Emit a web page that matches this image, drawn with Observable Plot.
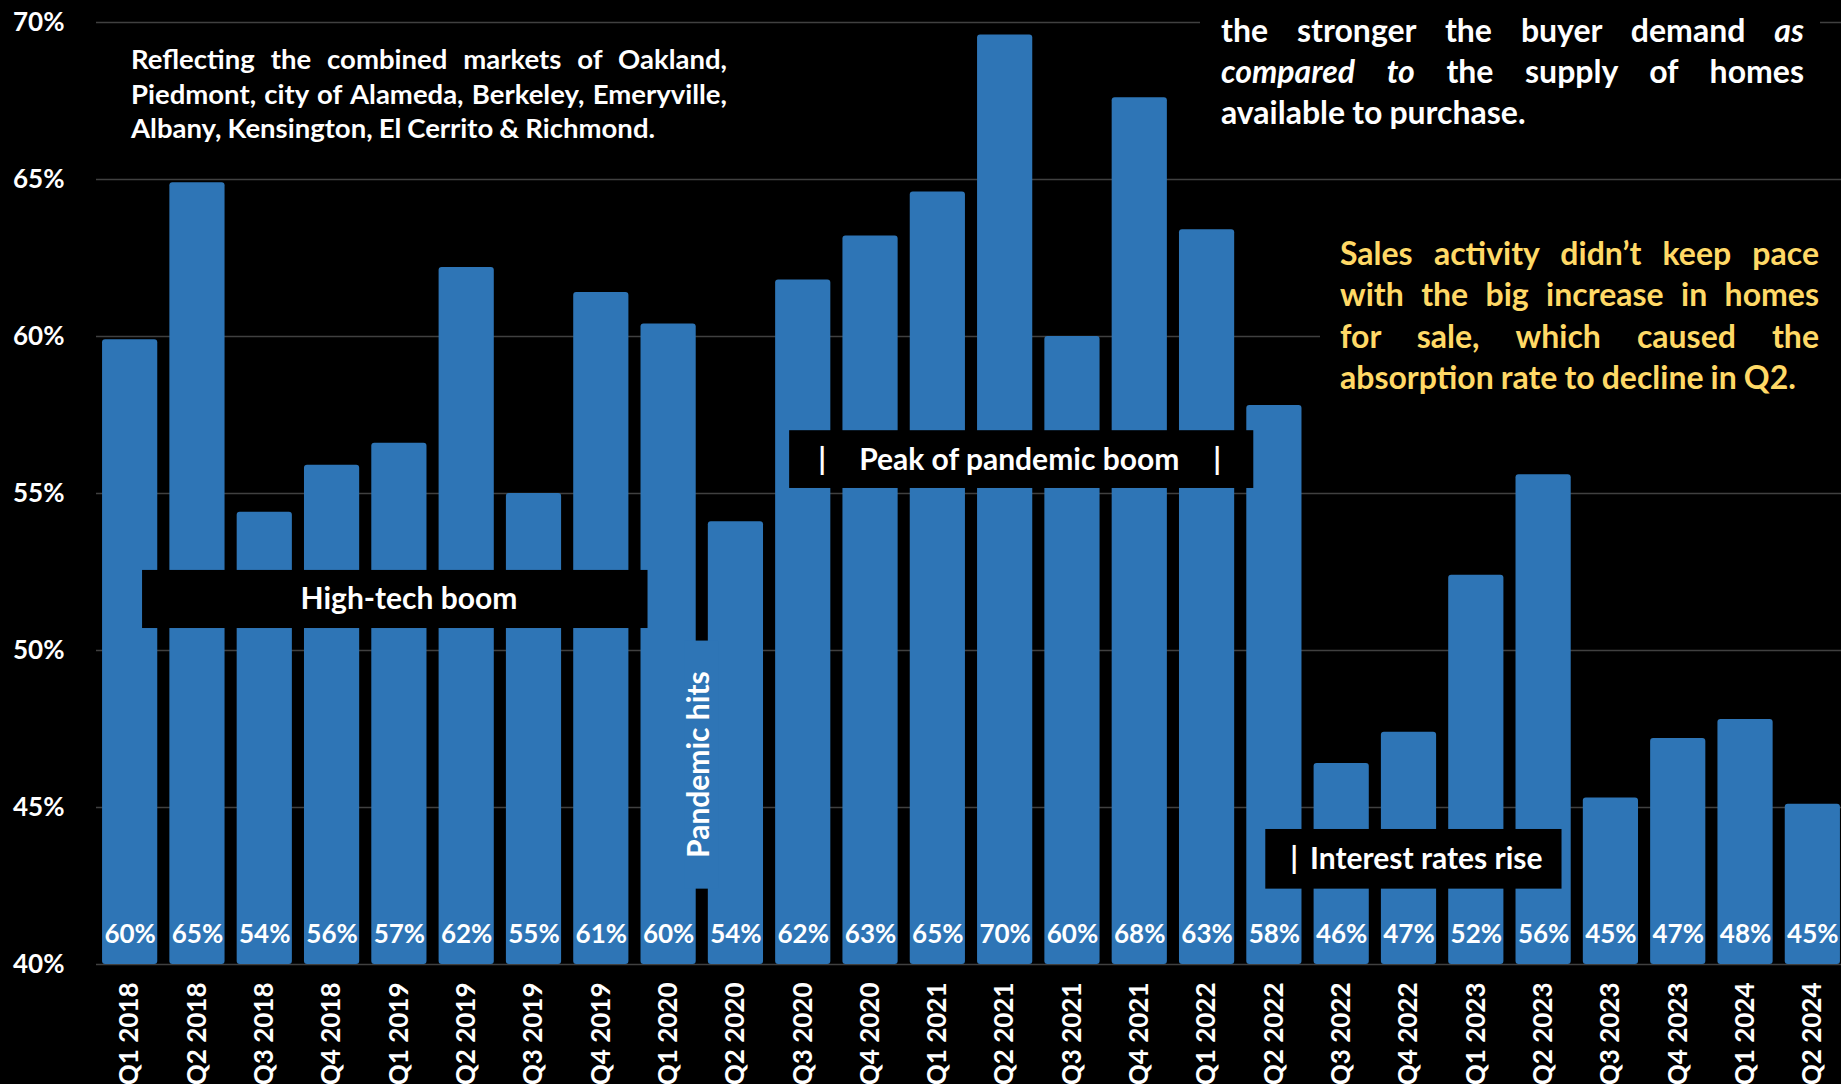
<!DOCTYPE html>
<html><head><meta charset="utf-8">
<script src="https://cdn.jsdelivr.net/npm/d3@7"></script>
<script src="https://cdn.jsdelivr.net/npm/@observablehq/plot@0.6"></script>
<style>
html,body{margin:0;padding:0;background:#000;overflow:hidden}
#chart{width:1841px;height:1084px;position:relative}
</style></head><body><div id="chart"></div>
<script>
// ---- data ----
const quarters = ["Q1 2018","Q2 2018","Q3 2018","Q4 2018","Q1 2019","Q2 2019","Q3 2019","Q4 2019",
  "Q1 2020","Q2 2020","Q3 2020","Q4 2020","Q1 2021","Q2 2021","Q3 2021","Q4 2021",
  "Q1 2022","Q2 2022","Q3 2022","Q4 2022","Q1 2023","Q2 2023","Q3 2023","Q4 2023","Q1 2024","Q2 2024"];
const absorption = [59.9,64.9,54.4,55.9,56.6,62.2,55.0,61.4,60.4,54.1,61.8,63.2,64.6,69.6,60.0,67.6,
  63.4,57.8,46.4,47.4,52.4,55.6,45.3,47.2,47.8,45.1];
const yTicks = [40,45,50,55,60,65,70];
const noteMarkets = ["Reflecting the combined markets of Oakland,",
  "Piedmont, city of Alameda, Berkeley, Emeryville,",
  "Albany, Kensington, El Cerrito & Richmond."];
const noteDemand = ["the stronger the buyer demand _as_",
  "_compared_ _to_ the supply of homes",
  "available to purchase."];
const noteSales = ["Sales activity didn\u2019t keep pace",
  "with the big increase in homes",
  "for sale, which caused the",
  "absorption rate to decline in Q2."];
const labelHighTech = "High-tech boom";
const labelPeak = ["|", "Peak of pandemic boom", "|"];
const labelRates = ["|", "Interest rates rise"];
const labelPandemic = "Pandemic hits";

const data = quarters.map((q, i) => ({q, v: absorption[i]}));
const BLUE = "#2E75B6", GRID = "#404040", YELLOW = "#FFD966";
const FONT = "Lato, 'Open Sans', sans-serif";

const plot = Plot.plot({
  width: 1841, height: 1084,
  marginTop: 22, marginBottom: 120, marginLeft: 96, marginRight: 0,
  style: {background: "#000", color: "#fff", fontFamily: FONT, fontWeight: 700, fontSize: "26px"},
  x: {domain: quarters, range: [96, 1846], paddingInner: 0.18, paddingOuter: 0.09, round: false, label: null,
      tickSize: 0, tickRotate: -90, tickPadding: 18},
  y: {domain: [40, 70], ticks: yTicks, tickFormat: d => d + "%", label: null, tickSize: 0, tickPadding: 32},
  marks: [
    Plot.ruleY(yTicks, {stroke: GRID, strokeWidth: 1.6}),
    Plot.barY(data, {x: "q", y1: 40, y2: "v", fill: BLUE, rx: 3}),
    Plot.text(data, {x: "q", text: d => Math.round(d.v) + "%", frameAnchor: "bottom", lineAnchor: "middle", dy: -30,
      fill: "#fff", fontSize: 26, fontWeight: 700})
  ]
});
document.getElementById("chart").appendChild(plot);

const svg = d3.select(plot);
const X = plot.scale("x"), Y = plot.scale("y");
const bw = X.bandwidth;
const xs = q => X.apply(q);
const ys = v => Y.apply(v);

const ann = svg.append("g").attr("font-family", FONT).attr("font-weight", 700).attr("text-anchor", "start");

function paragraph(lines, {x, y0, width, lh, size, fill}) {
  lines.forEach((line, i) => {
    const words = line.split(" ").map(w => ({it: /^_.*_$/.test(w), t: w.replace(/^_|_$/g, "")}));
    const t = ann.append("text").attr("y", y0 + i * lh).attr("font-size", size).attr("fill", fill).attr("text-anchor", "start");
    const spans = words.map((w, j) => {
      if (j) t.append("tspan").text(" ");
      return t.append("tspan").attr("font-style", w.it ? "italic" : "normal").text(w.t);
    });
    const widths = spans.map(s => s.node().getComputedTextLength());
    const last = i === lines.length - 1;
    const gap = (!last && words.length > 1) ? (width - d3.sum(widths)) / (words.length - 1) : size * 0.22;
    let cx = x;
    spans.forEach((s, j) => { s.attr("x", cx); cx += widths[j] + gap; });
  });
}
// one text line whose parts are centred on given x positions
function centredParts(parts, centres, y, size) {
  const t = ann.append("text").attr("y", y).attr("dy", "0.35em").attr("font-size", size).attr("fill", "#fff").attr("text-anchor", "start");
  const spans = parts.map((p, j) => {
    if (j) t.append("tspan").text(" ");
    return t.append("tspan").text(p);
  });
  spans.forEach((s, j) => s.attr("x", centres[j] - s.node().getComputedTextLength() / 2));
}

// black backing panels behind right-hand notes
ann.append("rect").attr("x", 1200).attr("y", 0).attr("width", 620).attr("height", 140).attr("fill", "#000");
ann.append("rect").attr("x", 1320).attr("y", 228).attr("width", 521).attr("height", 175).attr("fill", "#000");

paragraph(noteMarkets, {x: 131, y0: 69, width: 596, lh: 34.5, size: 27.5, fill: "#fff"});
paragraph(noteDemand, {x: 1221, y0: 42, width: 583, lh: 41, size: 32, fill: "#fff"});
paragraph(noteSales, {x: 1340, y0: 265, width: 479, lh: 41.3, size: 32, fill: YELLOW});

// High-tech boom box
{
  const x0 = xs("Q1 2018") + 40, x1 = xs("Q1 2020") + 7, y0 = ys(52.55), y1 = ys(50.7);
  ann.append("rect").attr("x", x0).attr("y", y0).attr("width", x1 - x0).attr("height", y1 - y0).attr("fill", "#000");
  centredParts([labelHighTech], [409], (y0 + y1) / 2, 30);
}
// Peak of pandemic boom box
{
  const x0 = xs("Q3 2020") + 14, x1 = xs("Q2 2022") + 7, y0 = ys(57.0), y1 = ys(55.16);
  ann.append("rect").attr("x", x0).attr("y", y0).attr("width", x1 - x0).attr("height", y1 - y0).attr("fill", "#000");
  centredParts(labelPeak, [x0 + 33, (x0 + x1) / 2 - 2, x1 - 36], (y0 + y1) / 2, 30);
}
// Interest rates rise box
{
  const x0 = xs("Q2 2022") + 19, x1 = xs("Q2 2023") + 46, y0 = ys(44.3), y1 = ys(42.4);
  ann.append("rect").attr("x", x0).attr("y", y0).attr("width", x1 - x0).attr("height", y1 - y0).attr("fill", "#000");
  centredParts(labelRates, [x0 + 29, x0 + 161], (y0 + y1) / 2, 30);
}
// Pandemic hits (vertical, on blue)
{
  const gx = xs("Q1 2020") + bw + (xs("Q2 2020") - xs("Q1 2020") - bw) / 2;
  const y0 = ys(50.3), y1 = ys(42.4);
  ann.append("rect").attr("x", gx - 17).attr("y", y0).attr("width", 34).attr("height", y1 - y0).attr("fill", BLUE);
  ann.append("text").attr("transform", `translate(${gx - 3},${(y0 + y1) / 2}) rotate(-90)`)
    .attr("dy", "0.35em").attr("text-anchor", "middle").attr("font-size", 30).attr("fill", "#fff").text(labelPandemic);
}
</script></body></html>
